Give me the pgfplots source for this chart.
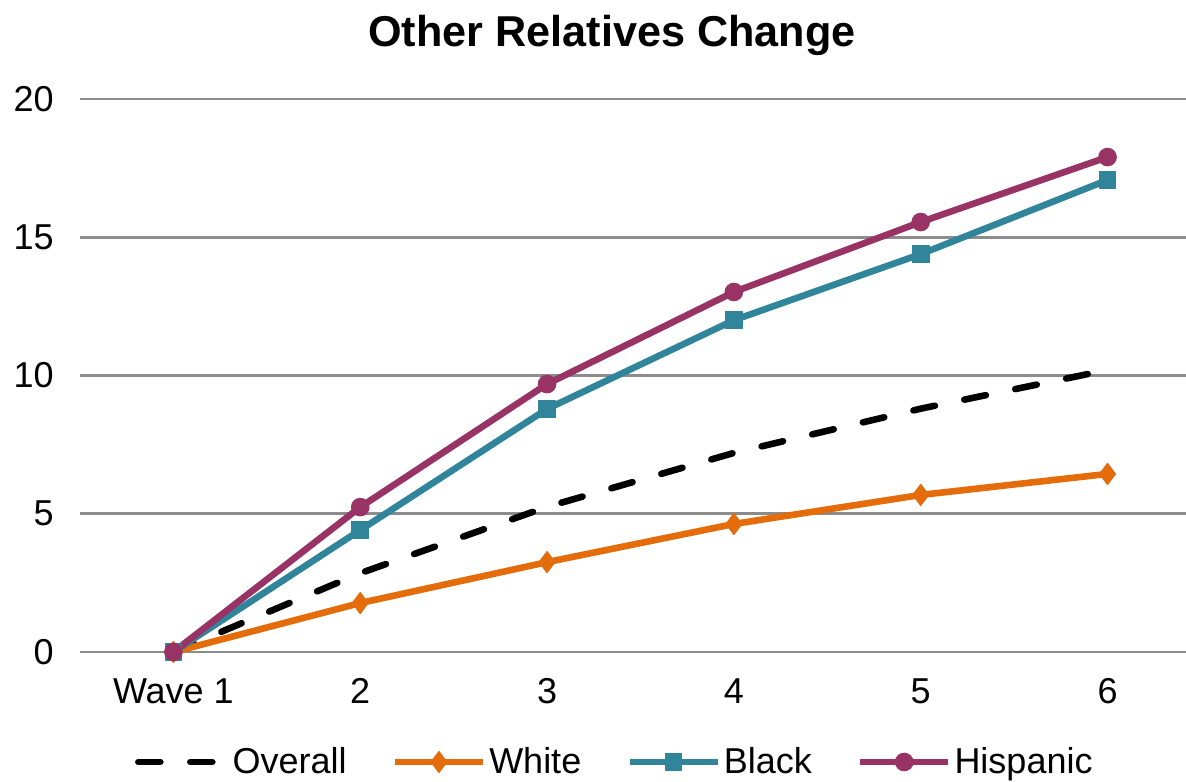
\documentclass[border=0pt]{standalone}
\usepackage{pgfplots}
\pgfplotsset{compat=1.18}
\usepackage{fontspec}
\setmainfont{Liberation Sans}

\definecolor{cOverall}{RGB}{0,0,0}
\definecolor{cWhite}{RGB}{228,108,10}
\definecolor{cBlack}{RGB}{49,133,155}
\definecolor{cHisp}{RGB}{153,51,102}
\definecolor{gridgray}{RGB}{140,140,140}

\begin{document}
\begin{tikzpicture}
\begin{axis}[
  scale only axis,
  width=553pt, height=276.5pt,
  xmin=-0.5, xmax=5.42,
  ymin=0, ymax=20,
  clip=false,
  axis line style={draw=none},
  tick style={draw=none},
  ymajorgrids,
  grid style={gridgray, line width=1.3pt},
  ytick={0,5,10,15,20},
  xtick={0,1,2,3,4,5},
  xticklabels={Wave 1,2,3,4,5,6},
  font=\fontsize{18}{21}\selectfont,
  /pgf/number format/assume math mode=true,
  yticklabel style={anchor=east, inner sep=0pt, xshift=-13pt},
  xticklabel style={anchor=base, inner sep=0pt, yshift=-26pt},
  title={\bfseries Other Relatives Change},
  title style={at={(rel axis cs:0.481,1)}, anchor=base, yshift=20pt,
    font=\fontsize{21.6}{24}\selectfont},
  legend columns=4,
  legend style={draw=none, at={(rel axis cs:0.484,0)}, anchor=center,
    yshift=-55pt, font=\fontsize{18}{21}\selectfont, inner sep=0pt,
    nodes={inner sep=1.5pt},
    /tikz/every even column/.append style={column sep=21pt},
    /tikz/every odd column/.append style={column sep=0pt}},
  legend image code/.code={
    \draw[#1, mark repeat=2, mark phase=2]
      plot coordinates {(0pt,0pt) (22pt,0pt) (44pt,0pt)};},
  every axis plot/.append style={line width=3.3pt, line join=round},
]
% Overall (dashed, no markers)
\addplot[cOverall, no marks, line cap=round,
  dash pattern=on 11pt off 15pt]
  coordinates {(0,0) (1,2.85) (2,5.25) (3,7.2) (4,8.8) (5,10.2)};
\addlegendentry{Overall}
% White
\addplot[cWhite, mark=diamond*, mark size=5.3pt,
  mark options={solid, line width=0.5pt}]
  coordinates {(0,0) (1,1.77) (2,3.25) (3,4.63) (4,5.68) (5,6.44)};
\addlegendentry{White}
% Black
\addplot[cBlack, mark=square*, mark size=4.2pt,
  mark options={solid, line width=0.5pt}]
  coordinates {(0,0) (1,4.41) (2,8.79) (3,12.0) (4,14.39) (5,17.07)};
\addlegendentry{Black}
% Hispanic
\addplot[cHisp, mark=*, mark size=4.4pt,
  mark options={solid, line width=0.5pt}]
  coordinates {(0,0) (1,5.24) (2,9.69) (3,13.02) (4,15.55) (5,17.9)};
\addlegendentry{Hispanic}
\end{axis}
\pgfresetboundingbox
\path[use as bounding box]
  ([xshift=-40pt,yshift=-65pt]current axis.south west)
  rectangle ([yshift=49.5pt]current axis.north east);
\end{tikzpicture}
\end{document}
